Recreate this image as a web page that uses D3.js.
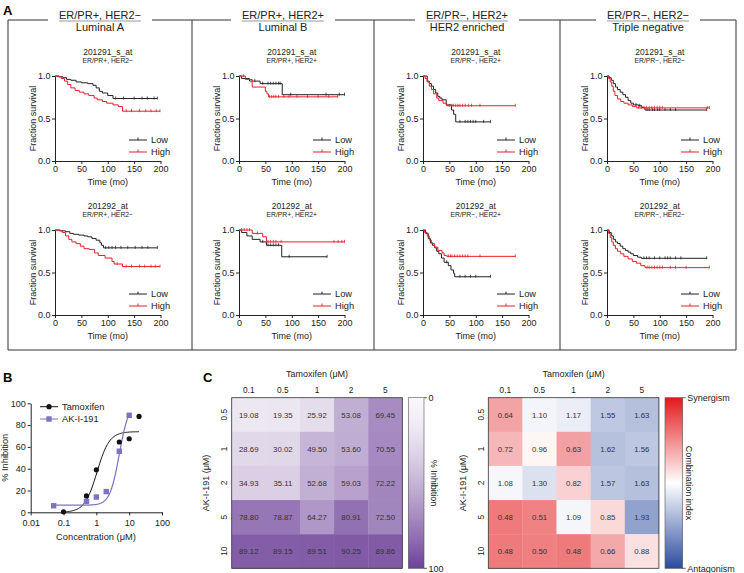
<!DOCTYPE html>
<html>
<head>
<meta charset="utf-8">
<script src="https://cdn.jsdelivr.net/npm/d3@7"></script>
<style>
body { margin: 0; background: #fff; }
svg { font-family: "Liberation Sans", Arial, sans-serif; }
</style>
</head>
<body>
<div id="graphic"></div>
<script>
// ---- Panel A: labels
var subtypes = ['ER/PR+, HER2\u2212', 'ER/PR+, HER2+', 'ER/PR\u2212, HER2+', 'ER/PR\u2212, HER2\u2212'];
var subtypeNames = ['Luminal A', 'Luminal B', 'HER2 enriched', 'Triple negative'];
var probes = ['201291_s_at', '201292_at'];
var groupNames = ['Low', 'High'];
var survTicks = [0, 0.5, 1.0];
var timeTicks = [0, 50, 100, 150, 200];

// Kaplan-Meier steps: [time (mo), fraction surviving]; censor times in mo
var lumA291Low = [[0,1],[8,0.99],[15,0.98],[22,0.96],[30,0.95],[40,0.93],[50,0.92],[62,0.91],[72,0.89],[78,0.86],[84,0.82],[90,0.80],[100,0.77],[110,0.735],[194,0.735]];
var lumA291LowCens = [115,130,150,165,175,188,194];
var lumA291High = [[0,1],[5,0.99],[12,0.97],[18,0.94],[24,0.90],[30,0.86],[38,0.83],[46,0.81],[55,0.79],[64,0.77],[74,0.74],[80,0.72],[90,0.70],[98,0.68],[110,0.66],[120,0.64],[128,0.586],[199,0.586]];
var lumA291HighCens = [135,145,160,172,182,192,199];

var lumB291Low = [[0,1],[5,0.97],[20,0.94],[40,0.91],[82,0.78],[200,0.78]];
var lumB291LowCens = [30,45,55,60,65,70,75,78,98,165,190,200];
var lumB291High = [[0,1],[12,0.96],[25,0.87],[50,0.82],[53,0.79],[56,0.755],[187,0.755]];
var lumB291HighCens = [8,58,62,66,70,75,85,95,110,130,150,170,187];

var her291Low = [[0,1],[8,0.94],[12,0.91],[16,0.88],[20,0.84],[24,0.80],[28,0.76],[32,0.74],[36,0.72],[44,0.66],[54,0.60],[58,0.55],[62,0.46],[128,0.46]];
var her291LowCens = [70,80,85,90,95,100,115,128];
var her291High = [[0,1],[4,0.97],[8,0.93],[12,0.88],[16,0.84],[20,0.79],[26,0.74],[30,0.71],[38,0.68],[45,0.65],[175,0.65]];
var her291HighCens = [50,55,58,62,66,70,75,80,86,92,108,175];

var tn291Low = [[0,1],[4,0.98],[8,0.95],[12,0.91],[16,0.87],[20,0.84],[25,0.81],[30,0.78],[35,0.75],[40,0.71],[45,0.68],[50,0.66],[60,0.65],[66,0.63],[72,0.60],[189,0.60]];
var tn291LowCens = [55,62,76,80,86,90,96,100,110,120,130,189];
var tn291High = [[0,1],[3,0.97],[6,0.93],[9,0.88],[12,0.82],[15,0.77],[20,0.73],[26,0.70],[32,0.68],[40,0.66],[48,0.64],[56,0.625],[194,0.625]];
var tn291HighCens = [60,65,70,75,80,85,90,95,100,105,190,194];

var lumA292Low = [[0,1],[10,0.99],[20,0.98],[28,0.96],[35,0.95],[45,0.94],[55,0.93],[62,0.92],[70,0.90],[78,0.88],[85,0.85],[88,0.82],[92,0.79],[194,0.79]];
var lumA292LowCens = [96,102,108,115,125,138,152,165,176,194];
var lumA292High = [[0,1],[8,0.99],[14,0.97],[20,0.93],[26,0.89],[32,0.86],[40,0.84],[48,0.81],[55,0.78],[65,0.77],[75,0.73],[82,0.70],[95,0.67],[108,0.63],[112,0.60],[128,0.57],[199,0.57]];
var lumA292HighCens = [118,135,145,160,170,182,190,199];

var lumB292Low = [[0,1],[5,0.97],[15,0.93],[25,0.89],[40,0.86],[52,0.82],[81,0.685],[167,0.685]];
var lumB292LowCens = [45,55,60,65,70,75,95,167];
var lumB292High = [[0,1],[25,0.96],[45,0.92],[52,0.86],[200,0.86]];
var lumB292HighCens = [5,10,15,20,35,55,60,65,70,80,180,188,195,200];

var her292Low = [[0,1],[5,0.96],[10,0.90],[14,0.85],[18,0.82],[22,0.79],[26,0.75],[30,0.72],[35,0.67],[40,0.62],[48,0.58],[53,0.53],[58,0.49],[60,0.45],[128,0.45]];
var her292LowCens = [45,70,80,90,100,128];
var her292High = [[0,1],[3,0.97],[8,0.93],[12,0.88],[16,0.84],[22,0.80],[28,0.76],[36,0.73],[40,0.70],[45,0.69],[175,0.69]];
var her292HighCens = [48,52,55,60,65,70,75,80,85,108,175];

var tn292Low = [[0,1],[4,0.97],[8,0.93],[12,0.89],[16,0.86],[20,0.84],[25,0.81],[30,0.78],[35,0.76],[40,0.74],[45,0.72],[50,0.70],[58,0.68],[65,0.667],[189,0.667]];
var tn292LowCens = [70,75,80,90,100,110,115,120,130,140,189];
var tn292High = [[0,1],[3,0.96],[6,0.91],[9,0.86],[12,0.82],[16,0.78],[20,0.75],[26,0.72],[32,0.69],[40,0.66],[48,0.63],[56,0.61],[64,0.58],[72,0.557],[194,0.557]];
var tn292HighCens = [76,80,85,90,95,100,105,120,130,150,194];

// ---- Panel B: dose response (% inhibition)
var tamConc = [0.1, 0.5, 1, 5, 10, 20];
var tamInhib = [0.5, 15, 39, 64.5, 67.5, 88];
var akConc = [0.05, 0.5, 1, 2, 5, 10];
var akInhib = [6, 10, 14, 19, 56, 89];
// fitted curves: bottom, top, EC50, hill, fitted range
var tamFit = [0, 74, 1.05, 2.3, 0.1, 20];
var akFit = [6.5, 100, 5, 3, 0.05, 10];
var concTicks = [0.01, 0.1, 1, 10, 100];
var inhibTicks = [0, 20, 40, 60, 80, 100];

// ---- Panel C: combination matrix (rows: AK-I-191, cols: tamoxifen)
var tamDoses = ['0.1', '0.5', '1', '2', '5'];
var akDoses = ['0.5', '1', '2', '5', '10'];
var inhibition = [
    [19.08, 19.35, 25.92, 53.08, 69.45],
    [28.69, 30.02, 49.50, 53.60, 70.55],
    [34.93, 35.11, 52.68, 59.03, 72.22],
    [78.80, 78.87, 64.27, 80.91, 72.50],
    [89.12, 89.15, 89.51, 90.25, 89.86]
];
var combIndex = [
    [0.64, 1.10, 1.17, 1.55, 1.63],
    [0.72, 0.96, 0.63, 1.62, 1.56],
    [1.08, 1.30, 0.82, 1.57, 1.63],
    [0.48, 0.51, 1.09, 0.85, 1.93],
    [0.48, 0.50, 0.48, 0.66, 0.88]
];

var kmRows = [
    [[lumA291Low, lumA291LowCens, lumA291High, lumA291HighCens],
     [lumB291Low, lumB291LowCens, lumB291High, lumB291HighCens],
     [her291Low, her291LowCens, her291High, her291HighCens],
     [tn291Low, tn291LowCens, tn291High, tn291HighCens]],
    [[lumA292Low, lumA292LowCens, lumA292High, lumA292HighCens],
     [lumB292Low, lumB292LowCens, lumB292High, lumB292HighCens],
     [her292Low, her292LowCens, her292High, her292HighCens],
     [tn292Low, tn292LowCens, tn292High, tn292HighCens]]
];

var colors = { low: '#222222', high: '#e8202a', tam: '#111111', ak: '#7a72c2' };

var svg = d3.select('#graphic').append('svg')
    .attr('width', 744)
    .attr('height', 573);

function panelLabel(txt, x, y) {
    svg.append('text').attr('x', x).attr('y', y)
        .attr('font-size', 13).attr('font-weight', 'bold').text(txt);
}

panelLabel('A', 3, 15);
panelLabel('B', 3, 382);
panelLabel('C', 203, 382);

/*
 * Panel A frame + headers
 */
var boxEdges = [8, 192, 374, 560, 736];
var frameTop = 20, frameBottom = 350;
var frame = svg.append('g').attr('stroke', '#333').attr('stroke-width', 1).attr('fill', 'none');

boxEdges.forEach(function(x) {
    frame.append('line').attr('x1', x).attr('x2', x).attr('y1', frameTop).attr('y2', frameBottom);
});
frame.append('line').attr('x1', boxEdges[0]).attr('x2', boxEdges[4]).attr('y1', frameBottom).attr('y2', frameBottom);

var gaps = [];
subtypes.forEach(function(s, i) {
    var cx = (boxEdges[i] + boxEdges[i + 1]) / 2;
    var t = svg.append('text').attr('x', cx).attr('y', 18.5)
        .attr('text-anchor', 'middle').attr('font-size', 11).attr('fill', '#222')
        .text(s);
    var w = t.node().getComputedTextLength();
    svg.append('line').attr('x1', cx - w / 2).attr('x2', cx + w / 2)
        .attr('y1', 21).attr('y2', 21).attr('stroke', '#999').attr('stroke-width', 1.2);
    svg.append('text').attr('x', cx).attr('y', 31)
        .attr('text-anchor', 'middle').attr('font-size', 11).attr('fill', '#222')
        .text(subtypeNames[i]);
    gaps.push([cx - w / 2 - 11, cx + w / 2 + 11]);
});
var segX = boxEdges[0];
gaps.forEach(function(g) {
    frame.append('line').attr('x1', segX).attr('x2', g[0]).attr('y1', frameTop).attr('y2', frameTop);
    segX = g[1];
});
frame.append('line').attr('x1', segX).attr('x2', boxEdges[4]).attr('y1', frameTop).attr('y2', frameTop);

/*
 * Kaplan-Meier plots
 */
var kmLeft = [55, 239, 423, 607];
var kmWidth = 105.5;
var kmTop = [76, 230];
var kmHeight = 85;

function survAt(steps, t) {
    var s = steps[0][1];
    steps.forEach(function(d) { if (d[0] <= t) s = d[1]; });
    return s;
}

function drawCurve(g, steps, cens, color, x, y) {
    var pts = [];
    steps.forEach(function(d, i) {
        if (i > 0) pts.push([d[0], steps[i - 1][1]]);
        pts.push(d);
    });
    g.append('path')
        .attr('d', d3.line().x(function(d) { return x(d[0]); }).y(function(d) { return y(d[1]); })(pts))
        .attr('fill', 'none').attr('stroke', color).attr('stroke-width', 1);
    cens.forEach(function(t) {
        var yy = y(survAt(steps, t));
        g.append('line').attr('x1', x(t)).attr('x2', x(t))
            .attr('y1', yy - 2).attr('y2', yy + 1)
            .attr('stroke', color).attr('stroke-width', 0.8);
    });
}

function styleAxis(size) {
    return function(sel) {
        sel.selectAll('path, line').attr('stroke', '#222').attr('stroke-width', 1);
        sel.selectAll('text').attr('font-size', size).attr('fill', '#222').attr('font-family', null);
    };
}

kmRows.forEach(function(row, r) {
    row.forEach(function(d, c) {
        var x = d3.scaleLinear().domain([0, 200]).range([kmLeft[c], kmLeft[c] + kmWidth]);
        var y = d3.scaleLinear().domain([0, 1]).range([kmTop[r] + kmHeight, kmTop[r]]);
        var g = svg.append('g');

        var cx = kmLeft[c] + kmWidth / 2;
        g.append('text').attr('x', cx).attr('y', kmTop[r] - 21.5)
            .attr('text-anchor', 'middle').attr('font-size', 8.5).attr('fill', '#222')
            .text(probes[r]);
        g.append('text').attr('x', cx).attr('y', kmTop[r] - 13.5)
            .attr('text-anchor', 'middle').attr('font-size', 6.8).attr('fill', '#222')
            .text(subtypes[c]);

        g.append('g').attr('transform', 'translate(0,' + (kmTop[r] + kmHeight) + ')')
            .call(d3.axisBottom(x).tickValues(timeTicks).tickSize(3).tickSizeOuter(0).tickPadding(1.5))
            .call(styleAxis(9));
        g.append('g').attr('transform', 'translate(' + kmLeft[c] + ',0)')
            .call(d3.axisLeft(y).tickValues(survTicks).tickSize(3).tickSizeOuter(0).tickPadding(1.5)
                .tickFormat(d3.format('.1f')))
            .call(styleAxis(9));

        g.append('text').attr('x', cx).attr('y', kmTop[r] + kmHeight + 24)
            .attr('text-anchor', 'middle').attr('font-size', 9).attr('fill', '#222')
            .text('Time (mo)');
        g.append('text')
            .attr('transform', 'translate(' + (kmLeft[c] - 19.5) + ',' + (kmTop[r] + kmHeight / 2) + ') rotate(-90)')
            .attr('text-anchor', 'middle').attr('font-size', 9).attr('fill', '#222')
            .text('Fraction survival');

        drawCurve(g, d[0], d[1], colors.low, x, y);
        drawCurve(g, d[2], d[3], colors.high, x, y);

        // legend
        [colors.low, colors.high].forEach(function(col, k) {
            var ly = kmTop[r] + 64 + k * 12;
            var lx = kmLeft[c] + 74;
            g.append('line').attr('x1', lx).attr('x2', lx + 18).attr('y1', ly).attr('y2', ly)
                .attr('stroke', col).attr('stroke-width', 1);
            g.append('line').attr('x1', lx + 9).attr('x2', lx + 9).attr('y1', ly - 2.5).attr('y2', ly)
                .attr('stroke', col).attr('stroke-width', 1);
            g.append('text').attr('x', lx + 22).attr('y', ly + 3.3)
                .attr('font-size', 9.3).attr('fill', '#222').text(groupNames[k]);
        });
    });
});

/*
 * Panel B: dose response
 */
var xB = d3.scaleLog().domain([0.01, 100]).range([30.7, 162]);
var yB = d3.scaleLinear().domain([0, 100]).range([512.3, 403.3]);
var gB = svg.append('g');

gB.append('g').attr('transform', 'translate(0,' + yB(0) + ')')
    .call(d3.axisBottom(xB).tickValues(concTicks).tickSize(3).tickSizeOuter(0).tickPadding(4)
        .tickFormat(function(d) { return String(d); }))
    .call(styleAxis(9));
gB.append('g').attr('transform', 'translate(' + xB(0.01) + ',0)')
    .call(d3.axisLeft(yB).tickValues(inhibTicks).tickSize(3).tickSizeOuter(0).tickPadding(2))
    .call(styleAxis(9));
gB.append('text').attr('x', 96).attr('y', 540).attr('text-anchor', 'middle')
    .attr('font-size', 9.3).attr('fill', '#222').text('Concentration (\u03bcM)');
gB.append('text').attr('transform', 'translate(7.5,' + yB(50) + ') rotate(-90)')
    .attr('text-anchor', 'middle').attr('font-size', 9.3).attr('fill', '#222').text('% Inhibition');

function hill(p, c) {
    return p[0] + (p[1] - p[0]) / (1 + Math.pow(p[2] / c, p[3]));
}

function fitLine(p) {
    var lo = Math.log10(p[4]), hi = Math.log10(p[5]);
    var pts = d3.range(0, 101).map(function(i) {
        var c = Math.pow(10, lo + (hi - lo) * i / 100);
        return [c, hill(p, c)];
    });
    return d3.line().x(function(d) { return xB(d[0]); }).y(function(d) { return yB(d[1]); })(pts);
}

gB.append('path').attr('d', fitLine(tamFit)).attr('fill', 'none').attr('stroke', colors.tam).attr('stroke-width', 1);
gB.append('path').attr('d', fitLine(akFit)).attr('fill', 'none').attr('stroke', colors.ak).attr('stroke-width', 1.2);

tamConc.forEach(function(c, i) {
    gB.append('circle').attr('cx', xB(c)).attr('cy', yB(tamInhib[i])).attr('r', 2.6).attr('fill', colors.tam);
});
akConc.forEach(function(c, i) {
    gB.append('rect').attr('x', xB(c) - 2.7).attr('y', yB(akInhib[i]) - 2.7)
        .attr('width', 5.4).attr('height', 5.4).attr('fill', colors.ak);
});

// legend
[['Tamoxifen', colors.tam, 406.7], ['AK-I-191', colors.ak, 419]].forEach(function(l, k) {
    gB.append('line').attr('x1', 40).attr('x2', 58).attr('y1', l[2]).attr('y2', l[2])
        .attr('stroke', l[1]).attr('stroke-width', 1);
    if (k === 0) {
        gB.append('circle').attr('cx', 49).attr('cy', l[2]).attr('r', 2.6).attr('fill', l[1]);
    } else {
        gB.append('rect').attr('x', 46.3).attr('y', l[2] - 2.7).attr('width', 5.4).attr('height', 5.4).attr('fill', l[1]);
    }
    gB.append('text').attr('x', 62).attr('y', l[2] + 3.3).attr('font-size', 9.3).attr('fill', '#222').text(l[0]);
});

/*
 * Panel C: heatmaps
 */
var hmTop = 397.7, hmSize = 170.6;
var inhibColor = d3.scalePow().exponent(1.45).domain([0, 100]).range(['#f8f7fa', '#6e4199']);
var ciColor = d3.scaleLinear().domain([0.1, 1, 2.8]).range(['#e3191c', '#ffffff', '#2b4c9f']).clamp(true);

function drawHeatmap(left, values, colorFn, fmt, rowLabelX, yTitleX) {
    var g = svg.append('g');
    var xs = d3.scaleBand().domain(tamDoses).range([left, left + hmSize]);
    var ys = d3.scaleBand().domain(akDoses).range([hmTop, hmTop + hmSize]);

    values.forEach(function(row, r) {
        row.forEach(function(v, c) {
            g.append('rect').attr('x', xs(tamDoses[c])).attr('y', ys(akDoses[r]))
                .attr('width', xs.bandwidth() + 0.3).attr('height', ys.bandwidth() + 0.3)
                .attr('fill', colorFn(v));
            g.append('text').attr('x', xs(tamDoses[c]) + xs.bandwidth() / 2)
                .attr('y', ys(akDoses[r]) + ys.bandwidth() / 2 + 2.8)
                .attr('text-anchor', 'middle').attr('font-size', 7.8).attr('fill', '#333')
                .text(fmt(v));
        });
    });
    g.append('rect').attr('x', left).attr('y', hmTop).attr('width', hmSize).attr('height', hmSize)
        .attr('fill', 'none').attr('stroke', '#333').attr('stroke-width', 0.8);

    tamDoses.forEach(function(t) {
        g.append('text').attr('x', xs(t) + xs.bandwidth() / 2).attr('y', 392.5)
            .attr('text-anchor', 'middle').attr('font-size', 8.3).attr('fill', '#222').text(t);
    });
    akDoses.forEach(function(a) {
        var yy = ys(a) + ys.bandwidth() / 2;
        g.append('text').attr('transform', 'translate(' + rowLabelX + ',' + yy + ') rotate(-90)')
            .attr('text-anchor', 'middle').attr('font-size', 8.3).attr('fill', '#222').text(a);
    });
    g.append('text').attr('x', left + hmSize / 2).attr('y', 376.5)
        .attr('text-anchor', 'middle').attr('font-size', 9).attr('fill', '#222').text('Tamoxifen (\u03bcM)');
    g.append('text').attr('transform', 'translate(' + yTitleX + ',' + (hmTop + hmSize / 2) + ') rotate(-90)')
        .attr('text-anchor', 'middle').attr('font-size', 9).attr('fill', '#222').text('AK-I-191 (\u03bcM)');
}

drawHeatmap(231.7, inhibition, inhibColor, d3.format('.2f'), 227, 209);
drawHeatmap(488.3, combIndex, ciColor, d3.format('.2f'), 483.5, 466);

// colour bars
var defs = svg.append('defs');
var grad1 = defs.append('linearGradient').attr('id', 'gradInhib').attr('x1', 0).attr('x2', 0).attr('y1', 0).attr('y2', 1);
d3.range(0, 101, 10).forEach(function(v) {
    grad1.append('stop').attr('offset', v + '%').attr('stop-color', inhibColor(v));
});
var grad2 = defs.append('linearGradient').attr('id', 'gradCI').attr('x1', 0).attr('x2', 0).attr('y1', 0).attr('y2', 1);
grad2.append('stop').attr('offset', '0%').attr('stop-color', '#e3191c');
grad2.append('stop').attr('offset', '50%').attr('stop-color', '#ffffff');
grad2.append('stop').attr('offset', '100%').attr('stop-color', '#2b4c9f');

function colorBar(x, w, gradId, topLbl, botLbl, title, titleX) {
    svg.append('rect').attr('x', x).attr('y', hmTop).attr('width', w).attr('height', hmSize)
        .attr('fill', 'url(#' + gradId + ')').attr('stroke', '#555').attr('stroke-width', 0.6);
    [[hmTop, topLbl], [hmTop + hmSize, botLbl]].forEach(function(t) {
        svg.append('line').attr('x1', x + w).attr('x2', x + w + 3).attr('y1', t[0]).attr('y2', t[0])
            .attr('stroke', '#333').attr('stroke-width', 0.8);
        svg.append('text').attr('x', x + w + 4.5).attr('y', t[0] + 3.2)
            .attr('font-size', 9).attr('fill', '#222').text(t[1]);
    });
    svg.append('text').attr('transform', 'translate(' + titleX + ',' + (hmTop + hmSize / 2) + ') rotate(90)')
        .attr('text-anchor', 'middle').attr('font-size', 9).attr('fill', '#222').text(title);
}

colorBar(408.3, 15.7, 'gradInhib', '0', '100', '% Inhibition', 430.5);
colorBar(665, 17.7, 'gradCI', 'Synergism', 'Antagonism', 'Combination index', 685.5);
</script>
</body>
</html>
